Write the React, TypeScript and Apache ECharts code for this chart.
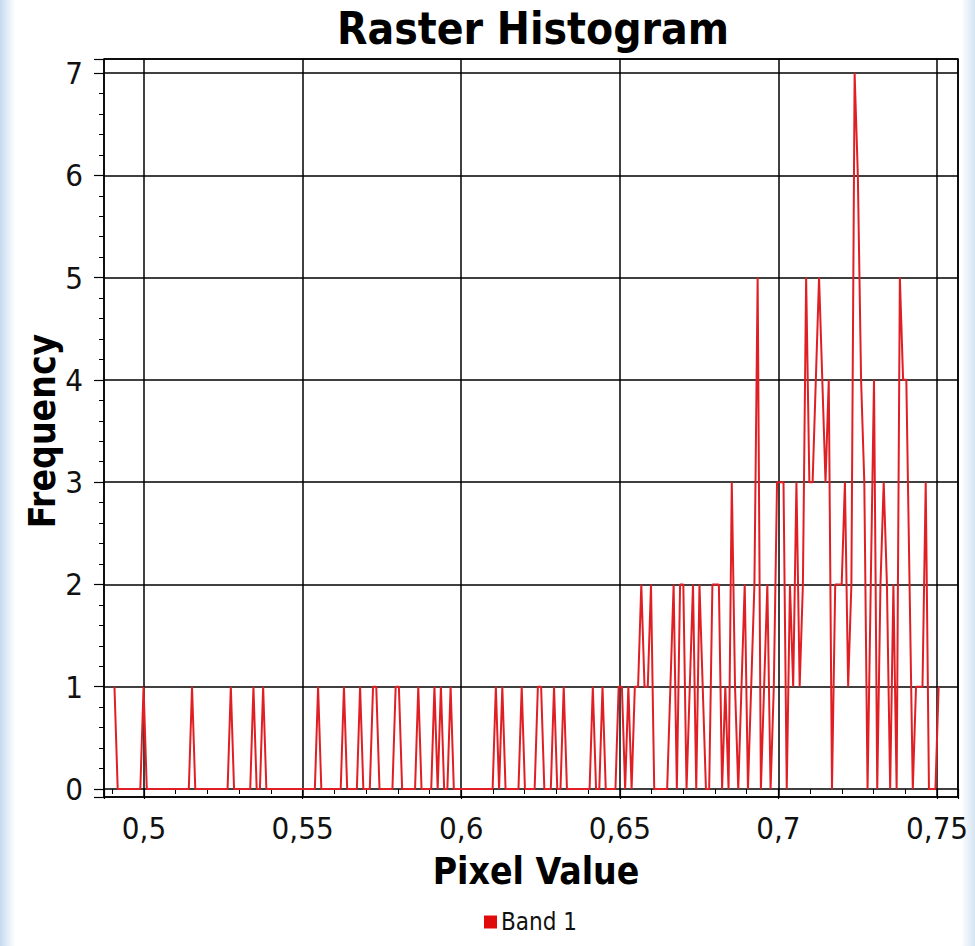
import React, { useEffect, useRef } from "react";
import * as echarts from "echarts";

// Histogram bins: first and last bin centre (pixel value)
const BIN_FIRST = 0.4907;
const BIN_LAST = 0.7505;

// Frequency per bin (256 bins)
const frequencies: number[] = [
  1, 0, 0, 0, 0, 0, 0, 0, 0, 1, 0, 0, 0, 0, 0, 0,
  0, 0, 0, 0, 0, 0, 0, 0, 1, 0, 0, 0, 0, 0, 0, 0,
  0, 0, 0, 0, 1, 0, 0, 0, 0, 0, 0, 1, 0, 0, 1, 0,
  0, 0, 0, 0, 0, 0, 0, 0, 0, 0, 0, 0, 0, 0, 0, 1,
  0, 0, 0, 0, 0, 0, 0, 1, 0, 0, 0, 0, 1, 0, 0, 0,
  1, 1, 0, 0, 0, 0, 0, 1, 1, 0, 0, 0, 0, 0, 1, 0,
  0, 0, 0, 1, 0, 1, 0, 0, 1, 0, 0, 0, 0, 0, 0, 0,
  0, 0, 0, 0, 0, 0, 1, 0, 1, 0, 0, 0, 0, 0, 1, 0,
  0, 0, 0, 1, 1, 0, 0, 0, 1, 0, 0, 1, 0, 0, 0, 0,
  0, 0, 0, 0, 1, 0, 0, 1, 0, 0, 0, 0, 1, 1, 0, 1,
  0, 1, 1, 2, 1, 1, 2, 0, 0, 0, 0, 0, 1, 2, 0, 2,
  2, 0, 1, 2, 0, 2, 1, 0, 0, 2, 2, 2, 0, 1, 0, 3,
  1, 0, 1, 2, 0, 1, 2, 5, 0, 1, 2, 0, 1, 3, 3, 3,
  0, 2, 1, 3, 1, 2, 5, 3, 3, 4, 5, 4, 3, 4, 0, 2,
  2, 2, 3, 1, 2, 7, 6, 4, 3, 0, 2, 4, 0, 2, 3, 2,
  0, 2, 0, 5, 4, 4, 2, 0, 1, 1, 1, 3, 0, 0, 0, 1,
];

const SERIES_NAME = "Band 1";
const TITLE = "Raster Histogram";
const X_NAME = "Pixel Value";
const Y_NAME = "Frequency";

const X_MIN = 0.4874;
const X_MAX = 0.7566;
const Y_MIN = -0.078;
const Y_MAX = 7.137;

const FONT = "'DejaVu Sans Condensed', 'DejaVu Sans', sans-serif";

export default function App() {
  const ref = useRef<HTMLDivElement>(null);

  useEffect(() => {
    if (!ref.current) return;
    const chart = echarts.init(ref.current, undefined, { renderer: "svg" });
    const n = frequencies.length;
    const step = (BIN_LAST - BIN_FIRST) / (n - 1);
    const data = frequencies.map((f, i) => [BIN_FIRST + i * step, f]);

    chart.setOption({
      animation: false,
      backgroundColor: "#ffffff",
      grid: {
        left: 104,
        top: 59,
        width: 854,
        height: 738,
        show: true,
        borderColor: "#000",
        borderWidth: 1.5,
        backgroundColor: "transparent",
      },
      legend: {
        data: [SERIES_NAME],
        left: 479,
        top: 905,
        icon: "rect",
        itemWidth: 13,
        itemHeight: 13,
        itemGap: 4,
        textStyle: { fontFamily: FONT, fontSize: 24, color: "#111", padding: [0, 0, 0, -1] },
      },
      xAxis: {
        type: "value",
        min: X_MIN,
        max: X_MAX,
        splitNumber: 5,
        axisLine: { show: false },
        axisTick: { show: true, length: 10, lineStyle: { color: "#000", width: 1.2 } },
        minorTick: { show: true, splitNumber: 5, length: 5, lineStyle: { color: "#000", width: 1 } },
        splitLine: { show: true, lineStyle: { color: "#000", width: 1.5 } },
        axisLabel: {
          showMinLabel: false,
          showMaxLabel: false,
          fontFamily: FONT,
          fontSize: 31,
          color: "#111",
          margin: 15,
          formatter: (v: number) => String(Math.round(v * 1000) / 1000).replace(".", ","),
        },
      },
      yAxis: {
        type: "value",
        min: Y_MIN,
        max: Y_MAX,
        splitNumber: 7,
        axisLine: { show: false },
        axisTick: { show: true, length: 10, lineStyle: { color: "#000", width: 1.2 } },
        minorTick: { show: true, splitNumber: 5, length: 5, lineStyle: { color: "#000", width: 1 } },
        splitLine: { show: true, lineStyle: { color: "#000", width: 1.5 } },
        axisLabel: {
          showMinLabel: false,
          showMaxLabel: false,
          fontFamily: FONT,
          fontSize: 31,
          color: "#111",
          margin: 21,
        },
      },
      graphic: [
        {
          type: "rect",
          z: -10,
          silent: true,
          shape: { x: 0, y: 0, width: 15, height: 946 },
          style: {
            fill: new echarts.graphic.LinearGradient(0, 0, 1, 0, [
              { offset: 0, color: "#c4daee" },
              { offset: 1, color: "#ffffff" },
            ]),
          },
        },
        {
          type: "rect",
          z: -10,
          silent: true,
          shape: { x: 961, y: 0, width: 14, height: 946 },
          style: {
            fill: new echarts.graphic.LinearGradient(0, 0, 1, 0, [
              { offset: 0, color: "#ffffff" },
              { offset: 1, color: "#d4e4f2" },
            ]),
          },
        },
        {
          type: "text",
          x: 533,
          y: 28,
          style: {
            text: TITLE,
            fontFamily: FONT,
            fontWeight: "bold",
            fontSize: 44,
            fill: "#000",
            textAlign: "center",
            textVerticalAlign: "middle",
          },
        },
        {
          type: "text",
          x: 536,
          y: 871,
          style: {
            text: X_NAME,
            fontFamily: FONT,
            fontWeight: "bold",
            fontSize: 37,
            fill: "#000",
            textAlign: "center",
            textVerticalAlign: "middle",
          },
        },
        {
          type: "text",
          x: 42,
          y: 431,
          rotation: Math.PI / 2,
          style: {
            text: Y_NAME,
            fontFamily: FONT,
            fontWeight: "bold",
            fontSize: 37,
            fill: "#000",
            textAlign: "center",
            textVerticalAlign: "middle",
          },
        },
      ],
      series: [
        {
          type: "line",
          name: SERIES_NAME,
          data,
          symbol: "none",
          showSymbol: false,
          clip: true,
          itemStyle: { color: "#e00c0c" },
          lineStyle: { color: "#e01f24", width: 2 },
        },
      ],
    });
    return () => chart.dispose();
  }, []);

  return (
    <div
      ref={ref}
      style={{ position: "absolute", left: 0, top: 0, width: 975, height: 946 }}
    />
  );
}
